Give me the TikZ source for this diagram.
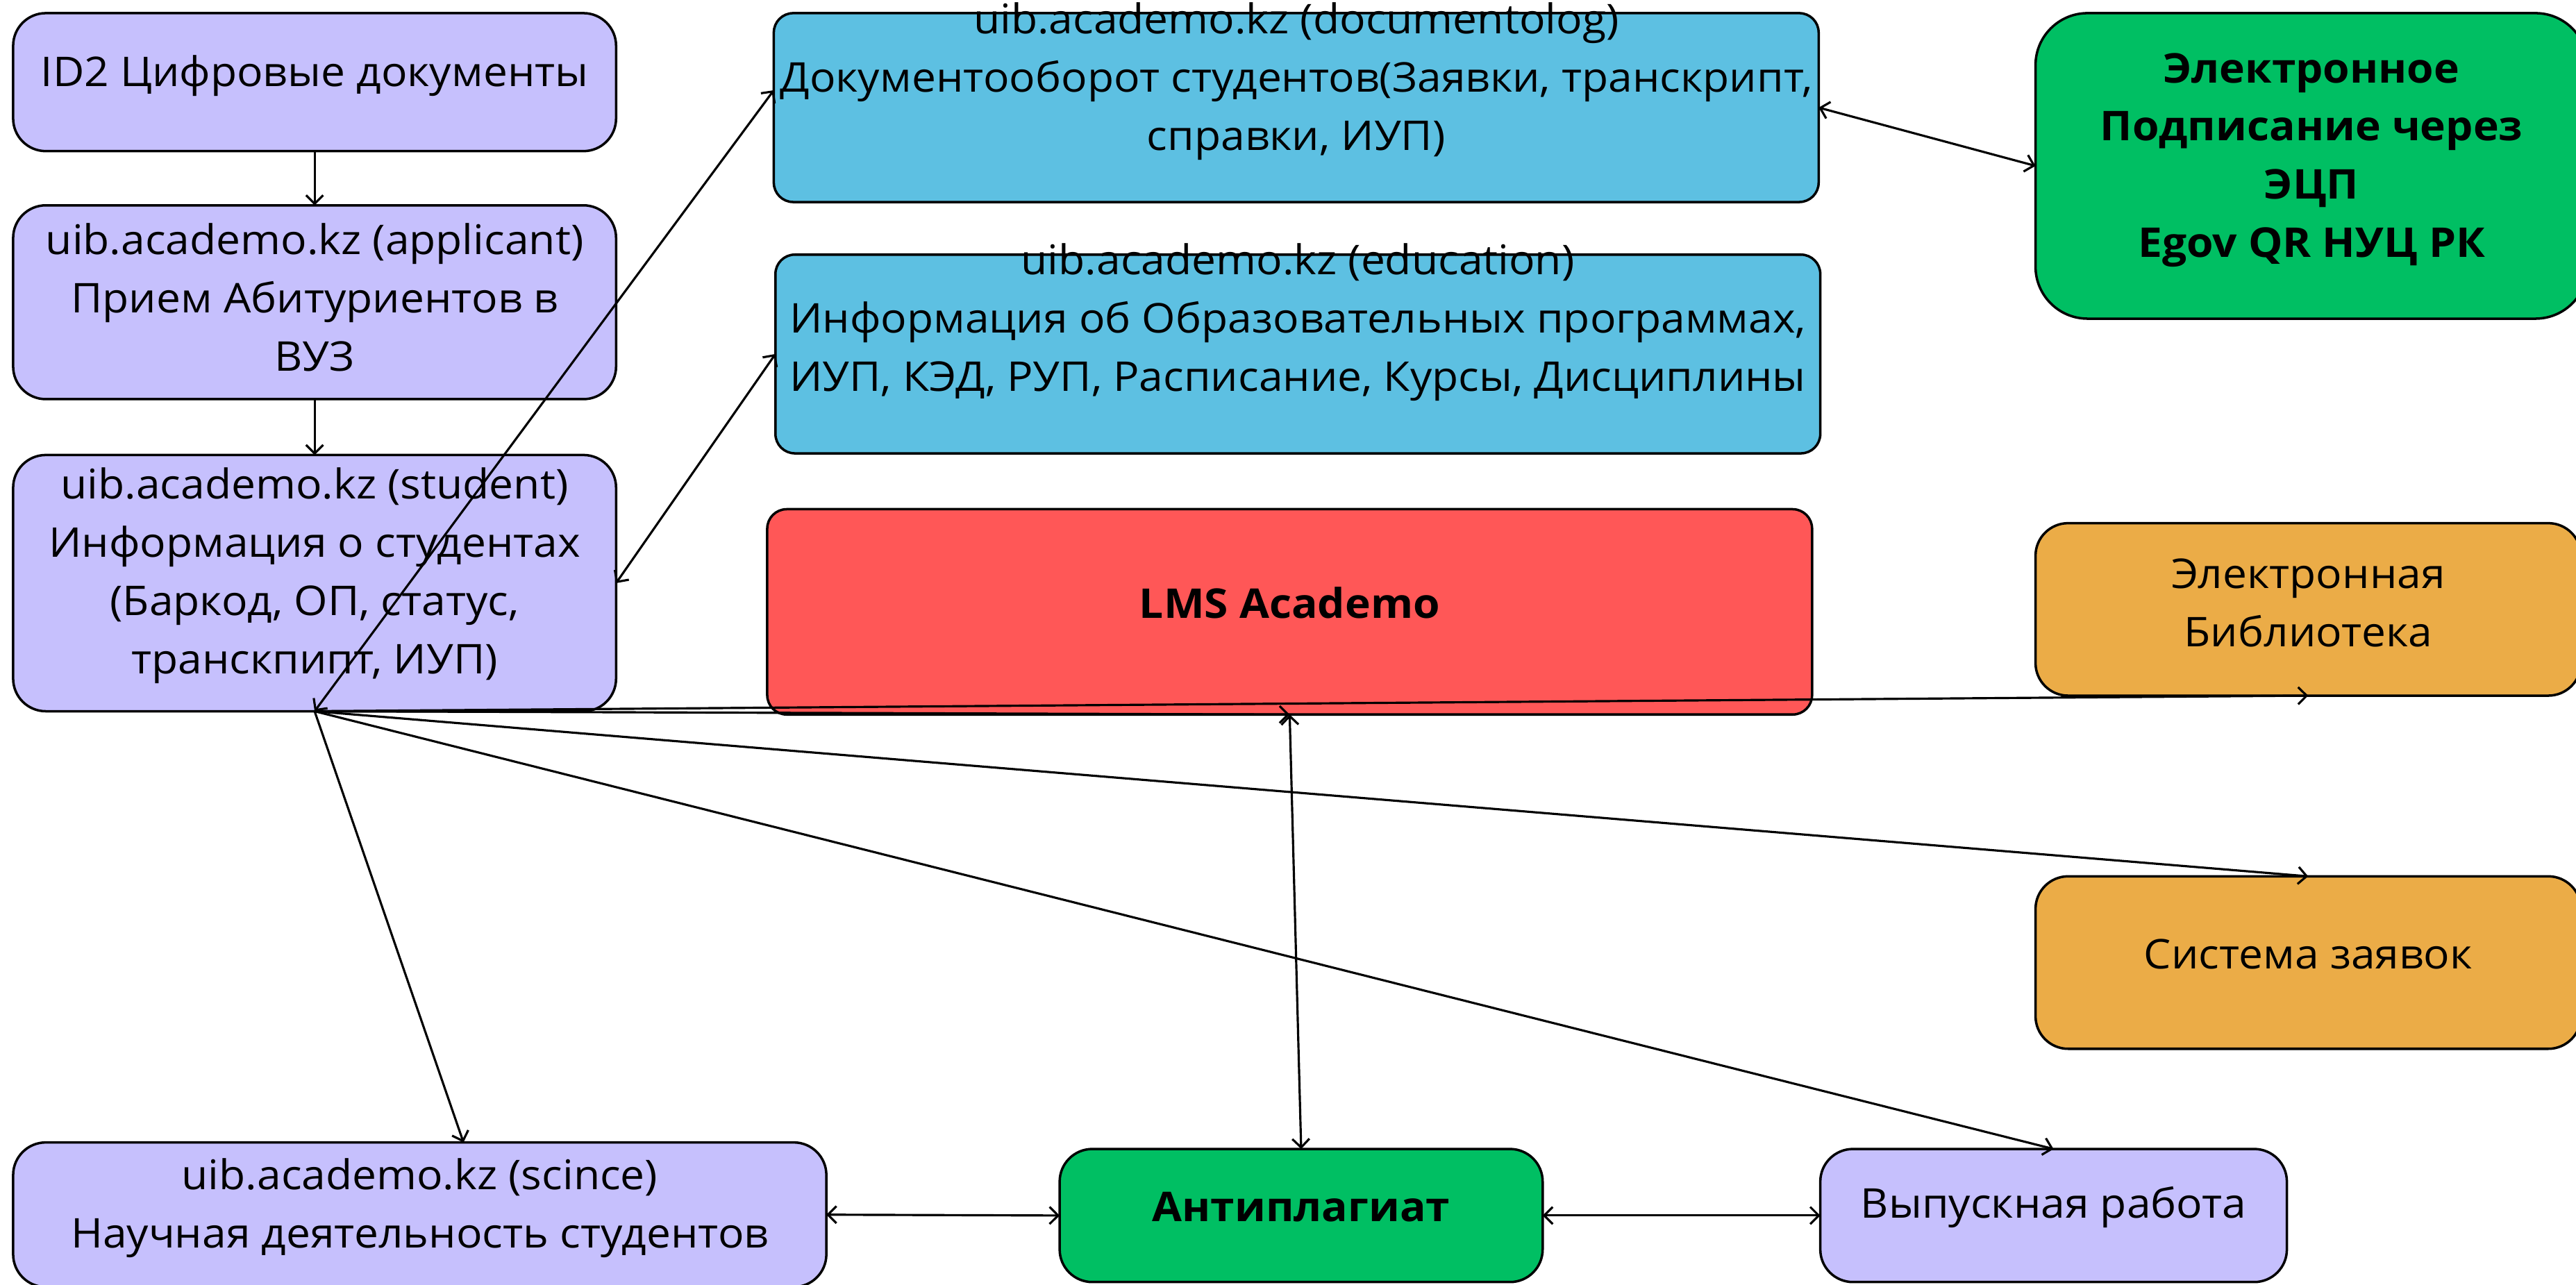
\documentclass[tikz,border=0pt]{standalone}
\usepackage{fontspec}
\setmainfont[FakeStretch=1.055]{Open Sans}
\usetikzlibrary{arrows.meta}
\definecolor{lav}{RGB}{198,192,253}
\definecolor{sky}{RGB}{93,192,226}
\definecolor{lmsred}{RGB}{255,87,87}
\definecolor{grn}{RGB}{0,191,99}
\definecolor{org}{RGB}{235,172,71}
\tikzset{
  box/.style n args={2}{draw=black, line width=1pt, inner sep=0pt, outer sep=0pt,
    minimum width=#1*0.023661cm, minimum height=#2*0.023661cm, rounded corners=0.47cm},
  smallr/.style={rounded corners=0.28cm},
  bigr/.style={rounded corners=0.75cm},
  txt/.style={align=center, inner sep=0pt, font=\fontsize{16.8pt}{23.9pt}\selectfont},
  btxt/.style={txt, font=\fontsize{16.8pt}{23.9pt}\selectfont\bfseries},
  conn/.style={line width=0.9pt, -{Straight Barb[length=3.5pt,width=7pt]}},
  biconn/.style={line width=0.9pt, {Straight Barb[length=3.5pt,width=7pt]}-{Straight Barb[length=3.5pt,width=7pt]}}
}
\begin{document}
\begin{tikzpicture}[x=0.023661cm, y=-0.023661cm]
\useasboundingbox (0,0) rectangle (1568,782.3);
\clip (0,0) rectangle (1568,782.3);
% boxes
\node[box={367}{84}, fill=lav] (id2) at (191.5,50) {};
\node[box={367}{118}, fill=lav] (appl) at (191.5,184) {};
\node[box={367}{156}, fill=lav] (stud) at (191.5,355) {};
\node[box={636}{115}, fill=sky, smallr] (doc) at (789,65.5) {};
\node[box={636}{121}, fill=sky, smallr] (edu) at (790,215.5) {};
\node[box={636}{125}, fill=lmsred, smallr] (lms) at (785,372.5) {};
\node[box={336}{186}, fill=grn, bigr] (sign) at (1407,101) {};
\node[box={332}{105}, fill=org] (lib) at (1405,371) {};
\node[box={332}{105}, fill=org] (req) at (1405,586) {};
\node[box={495}{88}, fill=lav] (sci) at (255.5,739.5) {};
\node[box={294}{81}, fill=grn] (anti) at (792,740) {};
\node[box={284}{81}, fill=lav] (grad) at (1250,740) {};
% texts
\node[txt] (id2t) at (191.5,46) {ID2 Цифровые документы};
\node[txt] (applt) at (191.5,181) {uib.academo.kz (applicant)\\Прием Абитуриентов в\\ВУЗ};
\node[txt] (studt) at (191.5,350.5) {uib.academo.kz (student)\\Информация о студентах\\(Баркод, ОП, статус,\\транскпипт, ИУП)};
\node[txt] (doct) at (789,49.5) {uib.academo.kz (documentolog)\\Документооборот студентов(Заявки, транскрипт,\\справки, ИУП)};
\node[txt] (edut) at (790,196) {uib.academo.kz (education)\\Информация об Образовательных программах,\\ИУП, КЭД, РУП, Расписание, Курсы, Дисциплины};
\node[btxt] (lmst) at (785,367) {LMS Academo};
\node[btxt] (signt) at (1407,97.5) {Электронное\\Подписание через\\ЭЦП\\Egov QR НУЦ РК};
\node[txt] (libt) at (1405,367) {Электронная\\Библиотека};
\node[txt] (reqt) at (1405,581) {Система заявок};
\node[txt] (scit) at (255.5,735.5) {uib.academo.kz (scince)\\Научная деятельность студентов};
\node[btxt] (antit) at (792,735) {Антиплагиат};
\node[txt] (gradt) at (1250,735) {Выпускная работа};
% connectors
\coordinate (hub) at (stud.south);
\draw[conn] (id2) -- (appl);
\draw[conn] (appl) -- (stud);
\draw[biconn] (hub) -- ([yshift=0.25cm]doc.west);
\draw[biconn] (stud.east) -- (edu.west);
\draw[conn] (hub) -- (lms.south);
\draw[conn] (hub) -- (lib.south);
\draw[conn] (hub) -- (req.north);
\draw[conn] (hub) -- (grad.north);
\draw[conn] (hub) -- ([xshift=0.63cm]sci.north);
\draw[biconn] (anti.north) -- (lms.south);
\draw[biconn] (sci.east) -- (anti.west);
\draw[biconn] (anti.east) -- (grad.west);
\draw[biconn] (doc.east) -- (sign.west);
\end{tikzpicture}
\end{document}
